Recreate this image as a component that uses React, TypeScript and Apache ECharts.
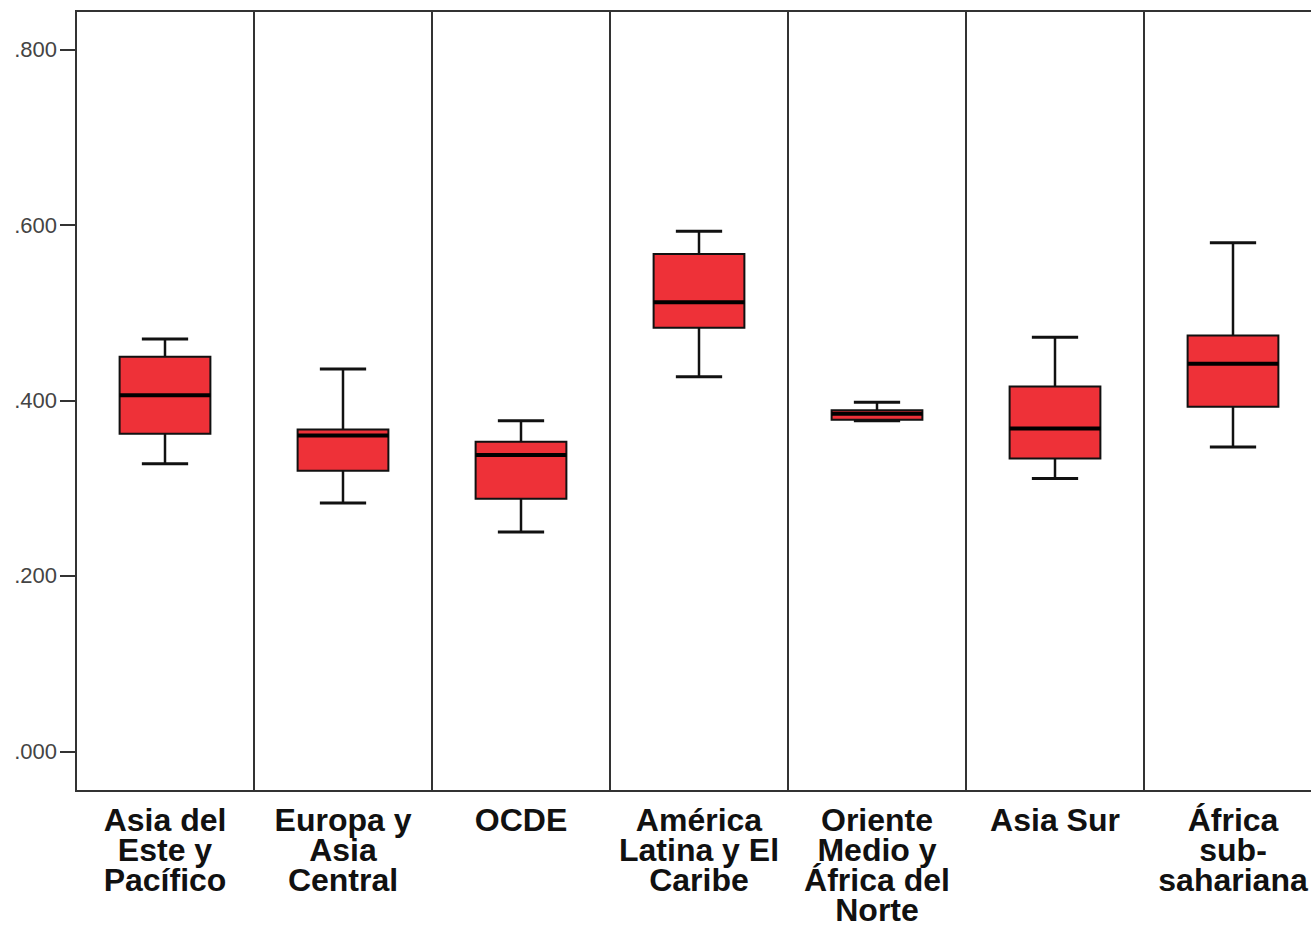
import React, { useEffect, useRef } from "react";
import * as echarts from "echarts";

const categories = [
  "Asia del\nEste y\nPacífico",
  "Europa y\nAsia\nCentral",
  "OCDE",
  "América\nLatina y El\nCaribe",
  "Oriente\nMedio y\nÁfrica del\nNorte",
  "Asia Sur",
  "África\nsub-\nsahariana",
];
const mins = [0.328, 0.283, 0.25, 0.427, 0.377, 0.311, 0.347];
const q1s = [0.362, 0.32, 0.288, 0.483, 0.378, 0.334, 0.393];
const medians = [0.406, 0.36, 0.338, 0.512, 0.385, 0.368, 0.442];
const q3s = [0.45, 0.367, 0.353, 0.567, 0.389, 0.416, 0.474];
const maxs = [0.47, 0.436, 0.377, 0.593, 0.398, 0.472, 0.58];
const yTicks = [0, 0.2, 0.4, 0.6, 0.8];

const FONT = "'Liberation Sans', Arial, Helvetica, sans-serif";

export default function App() {
  const ref = useRef<HTMLDivElement>(null);
  useEffect(() => {
    if (!ref.current) return;
    const chart = echarts.init(ref.current, undefined, { renderer: "svg" });
    const data = categories.map((_, i) => [i, mins[i], q1s[i], medians[i], q3s[i], maxs[i]]);
    chart.setOption({
      animation: false,
      backgroundColor: "#ffffff",
      grid: {
        left: 76,
        top: 11,
        right: 2,
        bottom: 129,
        show: true,
        borderColor: "#333",
        borderWidth: 2,
        backgroundColor: "transparent",
      },
      xAxis: {
        type: "category",
        data: categories,
        boundaryGap: true,
        axisLine: { show: true, onZero: false, lineStyle: { color: "#333", width: 2 } },
        axisTick: { show: false },
        splitLine: { show: true, interval: 0, lineStyle: { color: "#333", width: 2 } },
        axisLabel: {
          interval: 0,
          margin: 14,
          fontSize: 32,
          fontWeight: "bold",
          lineHeight: 30,
          color: "#111",
          fontFamily: FONT,
        },
      },
      yAxis: {
        type: "value",
        min: -0.04526,
        max: 0.84413,
        axisLine: { show: true, lineStyle: { color: "#333", width: 2 } },
        axisTick: {
          show: true,
          customValues: yTicks,
          length: 16,
          lineStyle: { color: "#333", width: 2 },
        },
        splitLine: { show: false },
        axisLabel: {
          customValues: yTicks,
          margin: 19,
          fontSize: 22,
          color: "#444",
          fontFamily: FONT,
          formatter: (v: number) => v.toFixed(3).replace(/^0/, ""),
        },
      },
      series: [
        {
          type: "custom",
          data,
          encode: { x: 0, y: [1, 2, 3, 4, 5] },
          renderItem: (params: any, api: any) => {
            const idx = api.value(0);
            const band = api.size([1, 0])[0];
            const boxW = band * 0.51;
            const capW = band * 0.26;
            const pMin = api.coord([idx, api.value(1)]);
            const pQ1 = api.coord([idx, api.value(2)]);
            const pMed = api.coord([idx, api.value(3)]);
            const pQ3 = api.coord([idx, api.value(4)]);
            const pMax = api.coord([idx, api.value(5)]);
            const cx = pMed[0];
            const lineStyle = { stroke: "#111", lineWidth: 2.5 };
            return {
              type: "group",
              children: [
                { type: "line", shape: { x1: cx, y1: pMax[1], x2: cx, y2: pQ3[1] }, style: lineStyle },
                { type: "line", shape: { x1: cx, y1: pQ1[1], x2: cx, y2: pMin[1] }, style: lineStyle },
                { type: "line", shape: { x1: cx - capW / 2, y1: pMax[1], x2: cx + capW / 2, y2: pMax[1] }, style: { stroke: "#111", lineWidth: 3 } },
                { type: "line", shape: { x1: cx - capW / 2, y1: pMin[1], x2: cx + capW / 2, y2: pMin[1] }, style: { stroke: "#111", lineWidth: 3 } },
                {
                  type: "rect",
                  shape: { x: cx - boxW / 2, y: pQ3[1], width: boxW, height: pQ1[1] - pQ3[1] },
                  style: { fill: "#EE3138", stroke: "#111", lineWidth: 2 },
                },
                { type: "line", shape: { x1: cx - boxW / 2, y1: pMed[1], x2: cx + boxW / 2, y2: pMed[1] }, style: { stroke: "#000", lineWidth: 4 } },
              ],
            };
          },
        },
      ],
    });
    return () => chart.dispose();
  }, []);
  return (
    <div style={{ position: "absolute", left: 0, top: 0, width: 1311, height: 926, overflow: "hidden", background: "#fff" }}>
      <div ref={ref} style={{ width: 1324, height: 926 }} />
    </div>
  );
}
